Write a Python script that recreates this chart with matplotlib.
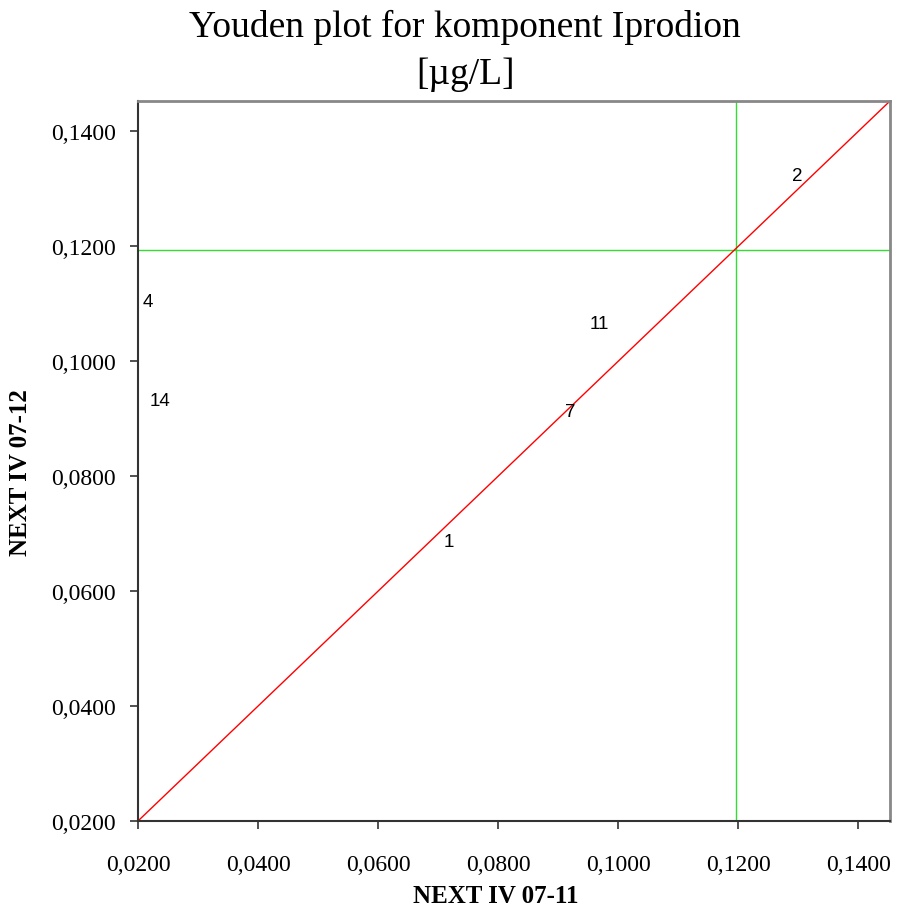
import matplotlib
matplotlib.use("Agg")
import matplotlib.pyplot as plt

labels = ["1", "2", "4", "7", "11", "14"]
x_vals = [0.0718, 0.1298, 0.0217, 0.0920, 0.0968, 0.0237]
y_vals = [0.0687, 0.1323, 0.1104, 0.0913, 0.1066, 0.0932]
median_x = 0.1197
median_y = 0.1193
lim_lo, lim_hi = 0.02, 0.1453
ticks = [0.02, 0.04, 0.06, 0.08, 0.10, 0.12, 0.14]
tick_labels = ["0,0200", "0,0400", "0,0600", "0,0800", "0,1000", "0,1200", "0,1400"]

serif = ["Liberation Serif", "DejaVu Serif"]
sans = ["Liberation Sans", "DejaVu Sans"]

W, H = 897, 912
fig = plt.figure(figsize=(W/100, H/100), dpi=100)
ax = fig.add_axes([138/W, 1-822/H, 752/W, 720/H])

ax.plot([lim_lo, lim_hi], [lim_lo, lim_hi], color="red", lw=1.0, zorder=2)
ax.axvline(median_x, color="#33dd33", lw=1.0, zorder=1)
ax.axhline(median_y, color="#33dd33", lw=1.0, zorder=1)

for lab, xv, yv in zip(labels, x_vals, y_vals):
    ax.text(xv, yv, lab, ha="center", va="center", fontsize=13.5, family=sans, zorder=3)

ax.set_xlim(lim_lo, lim_hi)
ax.set_ylim(lim_lo, lim_hi)
ax.set_xticks(ticks)
ax.set_yticks(ticks)
ax.set_xticklabels(tick_labels, family=serif, fontsize=17)
ax.set_yticklabels(tick_labels, family=serif, fontsize=17)
ax.tick_params(axis="y", direction="out", length=6, width=1.2, color="#333333", pad=10)
ax.tick_params(axis="x", direction="out", length=6, width=1.2, color="#333333", pad=18)

for s in ["left", "bottom"]:
    ax.spines[s].set_color("#333333")
    ax.spines[s].set_linewidth(1.5)
for s in ["top", "right"]:
    ax.spines[s].set_color("#888888")
    ax.spines[s].set_linewidth(2)

fig.text(496/W, 1-897/H, "NEXT IV 07-11", family=serif, fontsize=18, fontweight="bold",
         ha="center", va="center")
fig.text(21/W, 1-473/H, "NEXT IV 07-12", family=serif, fontsize=18, fontweight="bold",
         ha="center", va="center", rotation=90)

fig.text(465/W, 1-27/H, "Youden plot for komponent Iprodion", family=serif, fontsize=27,
         ha="center", va="center")
fig.text(465/W, 1-75/H, "[µg/L]", family=serif, fontsize=27, ha="center", va="center")

fig.savefig("out.png", dpi=100)
